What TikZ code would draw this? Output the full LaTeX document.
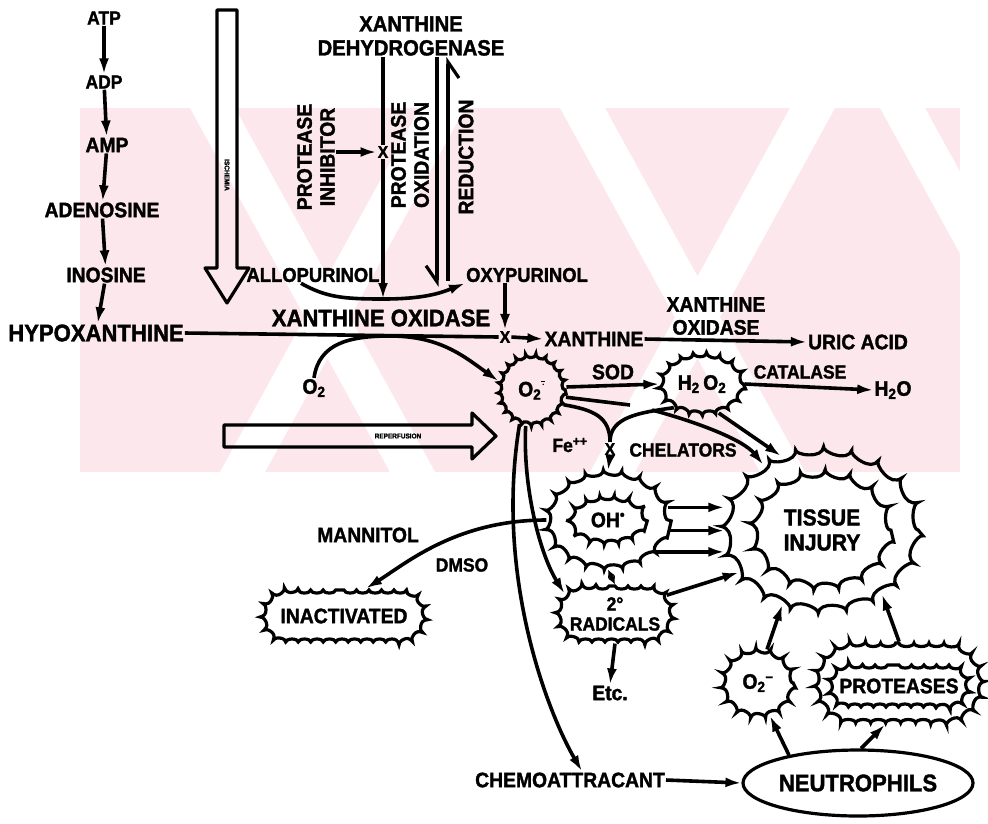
\documentclass[tikz,border=0pt]{standalone}
\usepackage{fontspec}
\setmainfont{Liberation Sans}[FakeStretch=0.92, BoldFeatures={FakeBold=1.6}]
\usetikzlibrary{arrows.meta,shapes.geometric,shapes.misc,decorations.pathmorphing}

\definecolor{wmpink}{RGB}{252,232,236}

\tikzset{
  txt/.style={font=\bfseries\fontsize{21}{23}\selectfont, inner sep=1pt, align=center},
  big/.style={font=\bfseries\fontsize{24}{26}\selectfont},
  sml/.style={font=\bfseries\fontsize{19}{21}\selectfont},
  tiny/.style={font=\bfseries\fontsize{7}{7}\selectfont, inner sep=0pt},
  xmark/.style={font=\bfseries\fontsize{17}{17}\selectfont, inner sep=1pt},
  ln/.style={line width=3.6pt},
  ar/.style={line width=3.6pt, -{Latex[length=16pt,width=10pt]}},
  twoar/.style={line width=3.4pt, {Latex[length=8pt,width=8pt]}-{Latex[length=8pt,width=8pt]}},
  harp/.style={line width=3.2pt, -{Straight Barb[harpoon,swap,length=16pt,width=22pt,line width=3.2pt]}},
  hollow/.style={line width=3.2pt, line join=round},
  spiky/.style 2 args={draw, line width=3.2pt, ellipse, inner sep=0pt,
    decorate, decoration={bumps, segment length=#1, amplitude=#2}},
  spikyrr/.style 2 args={draw, line width=3.2pt, rounded rectangle, inner sep=0pt,
    decorate, decoration={bumps, segment length=#1, amplitude=-#2}},
}

\begin{document}
\begin{tikzpicture}[x=1pt,y=-1pt]
\useasboundingbox (0,0) rectangle (988,823);

% watermark
\begin{scope}
  \clip (80,108) rectangle (960,472);
  \fill[wmpink] (80,108) rectangle (960,472);
  \foreach \s in {190,560,880}
    \fill[white] (\s,108) -- ++(45,0) -- ++(200,364) -- ++(-45,0) -- cycle;
  \foreach \s in {420,790}
    \fill[white] (\s,108) -- ++(45,0) -- ++(-200,364) -- ++(-45,0) -- cycle;
\end{scope}

% purine breakdown
\node[txt,sml] (atp) at (104,18) {ATP};
\node[txt,sml] (adp) at (104,82) {ADP};
\node[txt] (amp) at (107,145) {AMP};
\node[txt] (ado) at (102,210) {ADENOSINE};
\node[txt] (ino) at (106,275) {INOSINE};
\node[txt,big] (hypo) at (96,333) {HYPOXANTHINE};
\foreach \from/\to in {atp/adp,adp/amp,amp/ado,ado/ino,ino/hypo}
  \draw[ar] (\from) -- (\to);

% ischemia and reperfusion
\draw[hollow] (217,10) -- (237,10) -- (237,268) -- (249,268) -- (227,303)
  -- (205,268) -- (217,268) -- cycle;
\node[tiny,rotate=-90] (isch) at (227,175) {ISCHEMIA};
\draw[hollow] (224,425) -- (472,425) -- (472,413) -- (496,436) -- (472,459)
  -- (472,447) -- (224,447) -- cycle;
\node[tiny] (repf) at (398,436) {REPERFUSION};

% dehydrogenase / oxidase
\node[txt,font=\bfseries\fontsize{22}{24}\selectfont] (xdh) at (411,36) {XANTHINE\\DEHYDROGENASE};
\node[xmark] (xcut1) at (383,152) {X};
\node[txt,rotate=90] (inhib) at (316,157) {PROTEASE\\INHIBITOR};
\node[txt,rotate=90] (poxl) at (410,155) {PROTEASE\\OXIDATION};
\node[txt,rotate=90] (redl) at (466,157) {REDUCTION};
\draw[ar] (inhib.south |- xcut1) -- (xcut1.west);
\draw[ln] (xdh.south -| xcut1) -- (xcut1.north);
\coordinate (dip) at (383,299);
\draw[ar] (xcut1.south) -- (dip);
\draw[harp] ([xshift=26]xdh.south) -- ++(0,230);
\draw[harp] ([xshift=37,yshift=-224]xdh.south) -- ([xshift=37]xdh.south);

\node[txt,font=\bfseries\fontsize{20}{22}\selectfont] (allo) at (313,275) {ALLOPURINOL};
\node[txt,font=\bfseries\fontsize{20}{22}\selectfont] (oxy) at (527,275) {OXYPURINOL};
\draw[ar] ([xshift=-12]allo.south) .. controls +(25,14) and +(-40,0) .. (dip)
  .. controls +(40,0) and +(-25,10) .. (oxy.south west);

% xanthine oxidase
\node[txt,font=\bfseries\fontsize{24}{26}\selectfont] (xol) at (381,318) {XANTHINE OXIDASE};
\node[xmark] (xcut2) at (505,337) {X};
\draw[ln] (hypo.east) -- (xcut2.west);
\draw[ar] (oxy.south -| xcut2) -- (xcut2.north);
\node[txt] (xan) at (594,339) {XANTHINE};
\draw[ar] (xcut2.east) -- (xan.west);
\node[txt] (xo2) at (716,316) {XANTHINE\\OXIDASE};
\node[txt] (uric) at (858,342) {URIC ACID};
\draw[ar] (xan.east) -- (uric.west);

% oxygen radicals
\node[txt] (o2) at (314,388) {O\textsubscript{2}};
\node[spiky={20pt}{3pt}, minimum width=66, minimum height=70, txt] (sup) at (532,390)
  {O\textsubscript{2}\textsuperscript{$\overline{\cdot}$}};
\coordinate (touch) at (390,336);
\draw[ar] (o2.north) .. controls +(5,-35) and +(-40,0) .. (touch)
  .. controls +(50,0) and +(-35,-25) .. (sup.165);
\node[spiky={26pt}{3pt}, minimum width=82, minimum height=60, txt] (h2o2) at (702,384)
  {H\textsubscript{2}\,O\textsubscript{2}};
\node[txt] (sod) at (613,372) {SOD};
\draw[ar] (sup.5) -- (h2o2.west);
\node[txt,sml] (cat) at (800,372) {CATALASE};
\node[txt] (water) at (893,390) {H\textsubscript{2}O};
\draw[ar] (h2o2.east) -- (water.west);

\node[xmark] (xcut3) at (610,449) {X};
\node[txt,sml] (fe) at (570,445) {Fe\textsuperscript{++}};
\node[txt,sml] (chel) at (683,450) {CHELATORS};
\draw[ln] (sup.-25) .. controls +(30,5) and +(0,-25) .. (xcut3.north);
\draw[ln] (h2o2.-140) .. controls +(-35,5) and +(0,-25) .. (xcut3.north);

% hydroxyl radical
\node[spiky={36pt}{3.5pt}, minimum width=120, minimum height=96] (ohout) at (608,520) {};
\node[spiky={28pt}{3pt}, minimum width=74, minimum height=46, txt] (ohin) at (608,520)
  {OH\textsuperscript{•}};
\draw[ar] (xcut3.south) -- (ohout.north);

% tissue injury
\node[spiky={55pt}{5pt}, minimum width=192, minimum height=160] (tisout) at (822,530) {};
\node[spiky={48pt}{4.5pt}, minimum width=136, minimum height=114, txt, font=\bfseries\fontsize{23}{25}\selectfont]
  (tisin) at (822,530) {TISSUE\\INJURY};

\coordinate (gapa) at (630,405);
\coordinate (gapb) at (652,410);
\draw[ln] (sup.-12) -- (gapa);
\draw[ar] (gapb) .. controls +(45,12) and +(-20,-25) .. (tisout.132);
\draw[ar] (h2o2.-60) -- (tisout.119);
\foreach \a in {12,-10,-34}
  \draw[ar] (ohout.\a) -- (ohout.\a -| tisout.west);

% secondary radicals
\node[spikyrr={26pt}{3pt}, minimum width=116, minimum height=56, txt,
  font=\bfseries\fontsize{19}{20}\selectfont] (rad) at (615,614) {2°\\RADICALS};
\draw[twoar] (ohout.south) -- (rad.north);
\node[txt] (etc) at (610,693) {Etc.};
\draw[ar] (rad.south) -- (etc.north);
\draw[ar] (rad.20) -- (tisout.207);
\draw[ar] (sup.-100) .. controls +(-3,60) and +(-25,-40) .. (rad.158);

% scavengers
\node[spikyrr={25pt}{3pt}, minimum width=164, minimum height=52, txt] (inact) at (344,616) {INACTIVATED};
\node[txt] (mann) at (368,535) {MANNITOL};
\node[txt,sml] (dmso) at (462,565) {DMSO};
\draw[ar] (ohout.west) .. controls +(-90,0) and +(40,-25) .. ([xshift=22]inact.north);

% neutrophils
\node[txt] (chemo) at (570,780) {CHEMOATTRACANT};
\draw[ar] (sup.-110) .. controls +(-25,150) and +(-35,-60) .. ([xshift=12]chemo.north);
\node[draw, ellipse, line width=3.2pt, minimum width=230, minimum height=66, txt, big] (neut)
  at (858,783) {NEUTROPHILS};
\draw[ar] (chemo.east) -- (neut.west);
\node[spiky={28pt}{3pt}, minimum width=70, minimum height=66, txt] (sup2) at (758,683)
  {O\textsubscript{2}\textsuperscript{–}};
\node[spikyrr={30pt}{3.5pt}, minimum width=166, minimum height=80] (protout) at (899,683) {};
\node[spikyrr={25pt}{3pt}, minimum width=140, minimum height=42, txt] (protin) at (899,686) {PROTEASES};
\draw[ar] (neut.158) -- (sup2.-70);
\draw[ar] (sup2.75) -- (tisout.242);
\draw[ar] (neut.85) -- ([xshift=-14]protout.south);
\draw[ar] (protout.north) -- (tisout.313);

\end{tikzpicture}
\end{document}
